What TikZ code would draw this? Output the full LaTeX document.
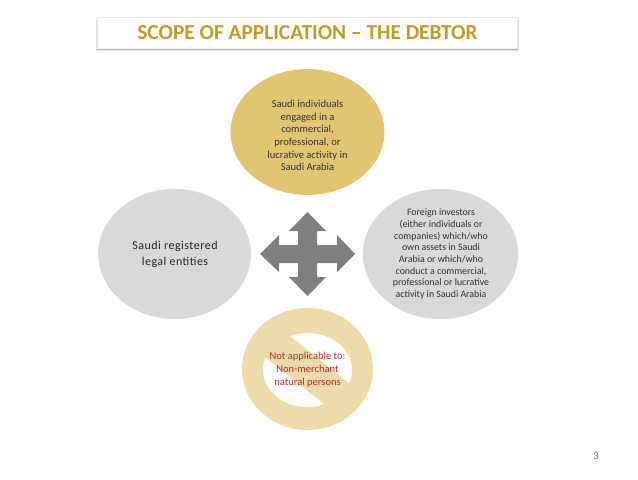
\documentclass[tikz,border=0pt]{standalone}
\usepackage{fontspec}
\setmainfont{Carlito}
\usetikzlibrary{shapes.geometric}
\definecolor{gold}{HTML}{C59B27}
\definecolor{topfill}{HTML}{E2C571}
\definecolor{greyfill}{HTML}{D9D9D9}
\definecolor{ban}{HTML}{EDDCA9}
\definecolor{arrowgrey}{HTML}{7F7F7F}
\definecolor{redtext}{HTML}{C8262B}
\tikzset{
  x=0.75pt,y=-0.75pt,
  bubble/.style={ellipse,draw=none,inner sep=0pt,outer sep=0pt,align=center},
  bodytext/.style={font=\fontsize{7.9}{9.55}\selectfont,text=black!80,align=center},
}
\begin{document}
\begin{tikzpicture}
\useasboundingbox (0,0) rectangle (638,479);
% title box
\fill[black!12] (96,19) rectangle (519,51);
\fill[black!28] (97,19) rectangle (518,50);
\fill[black!50] (98,20) rectangle (517,49);
\node[draw=black!8,line width=0.3pt,fill=white,minimum width=315pt,minimum height=23.2pt,inner sep=0pt] (titlebox) at (307,32.5) {};
\node[font=\fontsize{16}{19}\bfseries\selectfont,text=gold,inner sep=0pt] (title) at (307.5,33) {SCOPE OF APPLICATION -- THE DEBTOR};
% ellipses
\node[bubble,fill=topfill,minimum width=115.5pt,minimum height=94.5pt] (top) at (307.5,132) {};
\node[bubble,fill=greyfill,minimum width=114.5pt,minimum height=97.5pt] (left) at (174.5,254) {};
\node[bubble,fill=greyfill,minimum width=116.5pt,minimum height=97.5pt] (right) at (440.5,254) {};
% prohibition sign
\fill[ban,even odd rule] (307.5,369) ellipse [x radius=65.5,y radius=61]
      (307.5,370) ellipse [x radius=44.5,y radius=37];
\fill[ban] (286,333) -- (354,387) -- (329,408) -- (261,354) -- cycle;
% cross arrow
\fill[arrowgrey] (307.5,212) -- (326,231) -- (317,231) -- (317,245) -- (337,245) -- (337,235)
  -- (355,254) -- (337,272) -- (337,263) -- (317,263) -- (317,277) -- (326,277)
  -- (307.5,296) -- (289,277) -- (298,277) -- (298,263) -- (279,263) -- (279,272)
  -- (260,254) -- (279,235) -- (279,245) -- (298,245) -- (298,231) -- (289,231) -- cycle;
% texts
\node[bodytext] (toptext) at (307.5,135.5) {Saudi individuals\\engaged in a\\commercial,\\professional, or\\lucrative activity in\\Saudi Arabia};
\node[bodytext,font=\fontsize{9}{11.6}\selectfont,text=black!85] (lefttext) at (175,254.5) {\addfontfeature{LetterSpace=4}Saudi registered\\\addfontfeature{LetterSpace=4}legal entities};
\node[bodytext,font=\fontsize{7.4}{8.75}\selectfont] (righttext) at (441,254) {Foreign investors\\(either individuals or\\companies) which/who\\own assets in Saudi\\Arabia or which/who\\conduct a commercial,\\professional or lucrative\\activity in Saudi Arabia};
\node[bodytext,text=redtext] (bantext) at (307.5,369.5) {Not applicable to:\\Non-merchant\\natural persons};
\node[font=\fontsize{8}{10}\selectfont,text=black!55,inner sep=0pt] (page) at (596,456) {3};
\end{tikzpicture}
\end{document}
